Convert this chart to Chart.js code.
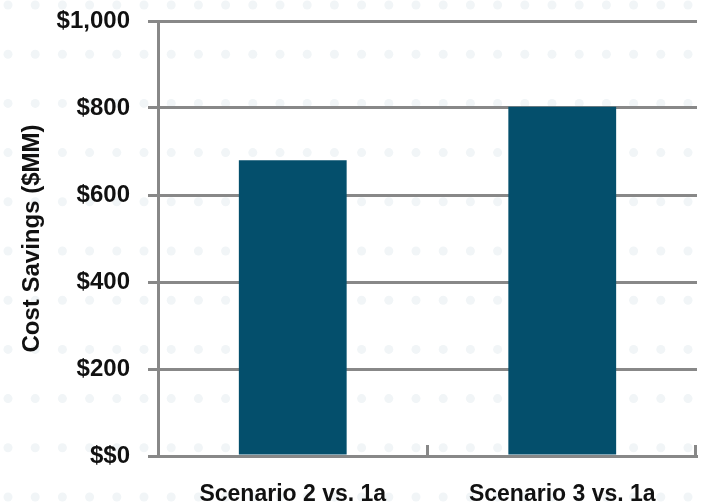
<!DOCTYPE html>
<html>
<head>
<meta charset="utf-8">
<script src="https://cdn.jsdelivr.net/npm/chart.js@4"></script>
<style>
  html, body { margin: 0; padding: 0; background: #ffffff; }
  #wrap { width: 702px; height: 503px; }
</style>
</head>
<body>
<div id="wrap"><canvas id="ahorroChart" width="702" height="503"></canvas></div>
<script>
// Datos del grafico
const escenarios = ['Scenario 2 vs. 1a', 'Scenario 3 vs. 1a'];
const ahorros = [680, 803];
const ticksY = [0, 200, 400, 600, 800, 1000];

const fuente = "'Liberation Sans', Arial, sans-serif";

// Fondo de puntos muy claros
const fondoPuntos = {
  id: 'fondoPuntos',
  beforeDraw(chart) {
    const c = chart.ctx;
    c.save();
    c.fillStyle = '#ffffff';
    c.fillRect(0, 0, chart.width, chart.height);
    c.fillStyle = '#f1f5f7';
    for (let y = 5; y < chart.height + 10; y += 49.2) {
      for (let x = 8; x < chart.width + 10; x += 27.2) {
        c.beginPath();
        c.arc(x, y, 4.5, 0, Math.PI * 2);
        c.fill();
      }
    }
    c.restore();
  }
};

// Marcas del eje X entre categorias (hacia arriba)
const marcasX = {
  id: 'marcasX',
  afterDatasetsDraw(chart) {
    const sx = chart.scales.x;
    const c = chart.ctx;
    const paso = (sx.right - sx.left) / escenarios.length;
    c.save();
    c.strokeStyle = '#888888';
    c.lineWidth = 3;
    for (let i = 1; i <= escenarios.length; i++) {
      const x = Math.min(sx.left + paso * i, sx.right - 1.5);
      c.beginPath();
      c.moveTo(x, sx.top);
      c.lineTo(x, sx.top - 11);
      c.stroke();
    }
    c.restore();
  }
};

const ctx = document.getElementById('ahorroChart');

new Chart(ctx, {
  type: 'bar',
  data: {
    labels: escenarios,
    datasets: [{
      label: 'Cost Savings',
      data: ahorros,
      backgroundColor: '#044f6c',
      borderWidth: 0,
      barPercentage: 0.4,
      categoryPercentage: 1.0
    }]
  },
  options: {
    responsive: false,
    animation: false,
    layout: { padding: { top: 21, right: 5, left: 0, bottom: 0 } },
    plugins: {
      legend: { display: false },
      tooltip: { enabled: false }
    },
    scales: {
      x: {
        grid: { display: false },
        border: { display: true, color: '#888888', width: 3 },
        ticks: {
          color: '#111111',
          padding: 17,
          font: { family: fuente, size: 23, weight: 'bold' }
        },
        afterFit(scale) { scale.height = 47; }
      },
      y: {
        min: 0,
        max: 1000,
        afterBuildTicks(scale) { scale.ticks = ticksY.map(v => ({ value: v })); },
        grid: { color: '#888888', lineWidth: 3, tickLength: 10 },
        border: { display: true, color: '#888888', width: 3 },
        ticks: {
          color: '#111111',
          padding: 18,
          font: { family: fuente, size: 24, weight: 'bold' },
          callback: function(valor) {
            if (valor === 0) return '$$0';
            return '$' + valor.toLocaleString('en-US');
          }
        },
        title: {
          display: true,
          text: 'Cost Savings ($MM)',
          color: '#111111',
          padding: { top: 18, bottom: 0 },
          font: { family: fuente, size: 24, weight: 'bold' }
        },
        afterFit(scale) {
          scale.width = 158;
          scale.paddingTop = 0;
          scale.paddingBottom = 0;
        }
      }
    }
  },
  plugins: [fondoPuntos, marcasX]
});
</script>
</body>
</html>
